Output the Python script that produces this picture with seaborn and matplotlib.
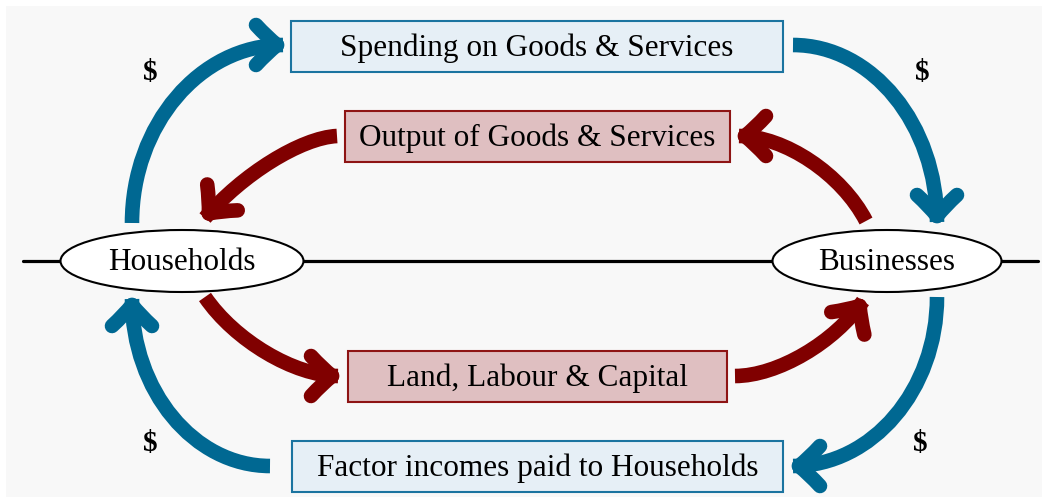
"""
Circular flow diagram: households and businesses, money vs. real flows.
"""

import numpy as np
import matplotlib.pyplot as plt
import seaborn as sns
from matplotlib.patches import Ellipse, PathPatch, Rectangle
from matplotlib.path import Path


NODE_LABELS = ["Households", "Businesses"]
BOX_LABELS = [
    "Spending on Goods & Services",
    "Output of Goods & Services",
    "Land, Labour & Capital",
    "Factor incomes paid to Households",
]
BOX_KINDS = ["money", "real", "real", "money"]
MONEY_SIGN = "$"

BLUE = "#006892"
RED = "#800000"
FILLS = {"money": "#e6eff6", "real": "#dfbfc1"}
EDGES = {"money": "#1b74a0", "real": "#8e1414"}

# layout in pixel coordinates (y grows downward)
NODE_POS = [(182, 262, 243, 62), (887, 262, 229, 62)]
BOX_POS = [(291, 22, 492, 51), (345, 112, 385, 51), (348, 352, 379, 51), (292, 442, 491, 51)]
MONEY_POS = [(150, 72), (922, 72), (150, 444), (920, 444)]

# tail, corner, tip, colour
ARROWS = [
    ((132, 224), (132, 46), (283, 46), BLUE),
    ((793, 46), (937, 46), (937, 223), BLUE),
    ((866, 222), (822, 137), (739, 137), RED),
    ((337, 137), (272, 140), (205, 219), RED),
    ((205, 298), (259, 377), (338, 377), RED),
    ((735, 377), (812, 377), (863, 302), RED),
    ((937, 298), (937, 467), (793, 467), BLUE),
    ((270, 467), (132, 467), (132, 300), BLUE),
]


def shaft_path(tail, corner, tip, k=0.55):
    tail, corner, tip = map(np.asarray, (tail, corner, tip))
    c1 = tail + k * (corner - tail)
    c2 = tip + k * (corner - tip)
    return Path([tail, c1, c2, tip], [Path.MOVETO, Path.CURVE4, Path.CURVE4, Path.CURVE4])


def head_paths(corner, tip):
    corner, tip = np.asarray(corner, float), np.asarray(tip, float)
    u = tip - corner
    u /= np.hypot(*u)
    n = np.array([-u[1], u[0]])
    t = tip - 6 * u
    paths = []
    for s in (1, -1):
        c = t - 10 * u + s * 8 * n
        e = t - 21 * u + s * 20 * n
        paths.append(Path([t, c, e], [Path.MOVETO, Path.CURVE3, Path.CURVE3]))
    return paths


def main():
    sns.set_style("white")
    plt.rcParams["font.family"] = ["Liberation Serif", "DejaVu Serif"]

    fig = plt.figure(figsize=(10.42, 5.02), dpi=100)
    ax = fig.add_axes([0, 0, 1, 1])
    ax.set_xlim(0, 1042)
    ax.set_ylim(502, 0)
    ax.axis("off")

    ax.add_patch(Rectangle((6, 7), 1036, 491, facecolor="#f8f8f8", edgecolor="none", zorder=0))
    ax.plot([23, 1038], [262, 262], color="black", lw=2.3, zorder=1)

    for (cx, cy, w, h), label in zip(NODE_POS, NODE_LABELS):
        ax.add_patch(Ellipse((cx, cy), w, h, facecolor="white", edgecolor="black", lw=1.5, zorder=2))
        ax.text(cx, cy + 1, label, ha="center", va="center", fontsize=22.5, color="black", zorder=3)

    for (x, y, w, h), label, kind in zip(BOX_POS, BOX_LABELS, BOX_KINDS):
        ax.add_patch(Rectangle((x, y), w, h, facecolor=FILLS[kind], edgecolor=EDGES[kind], lw=1.5, zorder=2))
        ax.text(x + w / 2, y + h / 2 + 1, label, ha="center", va="center", fontsize=22.5,
                color="black", zorder=3)

    for x, y in MONEY_POS:
        ax.text(x, y, MONEY_SIGN, ha="center", va="center", fontsize=21, fontweight="bold",
                color="black", zorder=3)

    for tail, corner, tip, color in ARROWS:
        ax.add_patch(PathPatch(shaft_path(tail, corner, tip), facecolor="none", edgecolor=color,
                               lw=10.5, capstyle="butt", zorder=2))
        for p in head_paths(corner, tip):
            ax.add_patch(PathPatch(p, facecolor="none", edgecolor=color, lw=10.5,
                                   capstyle="round", joinstyle="round", zorder=2))

    fig.savefig("out.png", dpi=100)
    plt.close(fig)


if __name__ == "__main__":
    main()
